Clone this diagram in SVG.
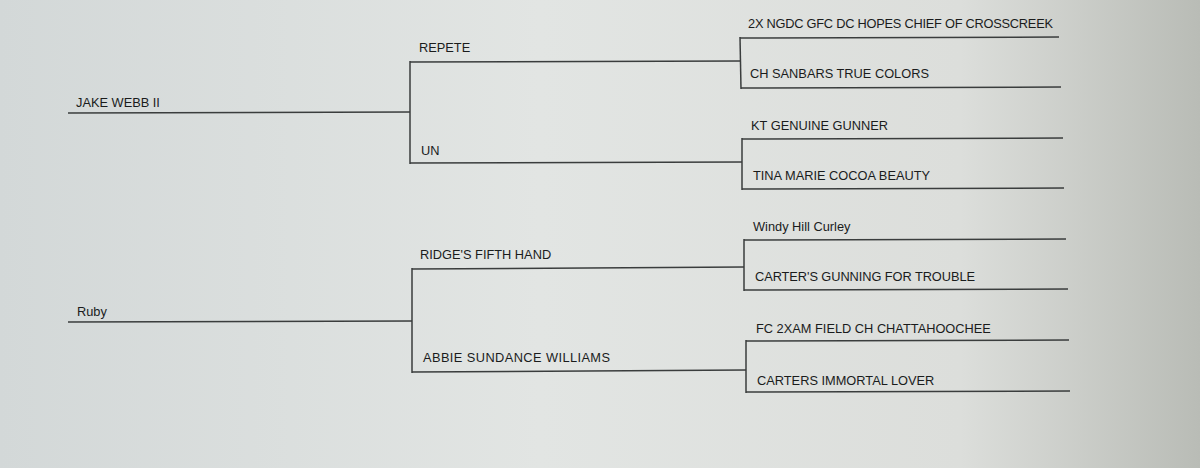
<svg xmlns="http://www.w3.org/2000/svg" width="1200" height="468" viewBox="0 0 1200 468">
<defs>
<linearGradient id="bg" x1="0" y1="0" x2="1" y2="0">
<stop offset="0" stop-color="#d3d8d8"/>
<stop offset="0.45" stop-color="#e2e5e3"/>
<stop offset="0.8" stop-color="#dcdedb"/>
<stop offset="1" stop-color="#b9bcb6"/>
</linearGradient>
</defs>
<style>
text{font-family:"Liberation Sans",Arial,sans-serif;font-size:12.8px;fill:#1a1c1c}
line{stroke:#3a3d3d;stroke-width:1.5}
</style>
<rect width="1200" height="468" fill="url(#bg)"/>
<g id="n-jake"><text x="76" y="107">JAKE WEBB II</text><line x1="68" y1="113" x2="410" y2="112"/></g>
<g id="n-ruby"><text x="77" y="316">Ruby</text><line x1="68" y1="322" x2="412" y2="321"/></g>
<g id="n-repete"><text x="419" y="52">REPETE</text><line x1="410" y1="62" x2="740" y2="61"/></g>
<g id="n-un"><text x="421" y="155">UN</text><line x1="410" y1="163" x2="742" y2="162"/></g>
<g id="n-ridge"><text x="420" y="259">RIDGE'S FIFTH HAND</text><line x1="412" y1="269" x2="744" y2="267"/></g>
<g id="n-abbie"><text x="423" y="362" textLength="187">ABBIE SUNDANCE WILLIAMS</text><line x1="412" y1="372" x2="746" y2="370"/></g>
<g id="n-hopes"><text x="748" y="28" textLength="305">2X NGDC GFC DC HOPES CHIEF OF CROSSCREEK</text><line x1="740" y1="38" x2="1059" y2="37"/></g>
<g id="n-sanbars"><text x="750" y="78">CH SANBARS TRUE COLORS</text><line x1="741" y1="88" x2="1061" y2="87"/></g>
<g id="n-kt"><text x="751" y="130">KT GENUINE GUNNER</text><line x1="742" y1="139" x2="1063" y2="138"/></g>
<g id="n-tina"><text x="753" y="180">TINA MARIE COCOA BEAUTY</text><line x1="742" y1="189" x2="1064" y2="188"/></g>
<g id="n-windy"><text x="753" y="231">Windy Hill Curley</text><line x1="744" y1="240" x2="1066" y2="239"/></g>
<g id="n-carters-gunning"><text x="755" y="281" textLength="220">CARTER'S GUNNING FOR TROUBLE</text><line x1="744" y1="290" x2="1068" y2="289"/></g>
<g id="n-fc"><text x="756" y="333">FC 2XAM FIELD CH CHATTAHOOCHEE</text><line x1="746" y1="341" x2="1069" y2="340"/></g>
<g id="n-immortal"><text x="757" y="385">CARTERS IMMORTAL LOVER</text><line x1="746" y1="392" x2="1070" y2="391"/></g>
<g id="connectors">
<line x1="410" y1="61" x2="410" y2="164"/>
<line x1="412" y1="268" x2="412" y2="373"/>
<line x1="740" y1="37" x2="741" y2="89"/>
<line x1="742" y1="138" x2="742" y2="190"/>
<line x1="744" y1="239" x2="744" y2="291"/>
<line x1="746" y1="340" x2="746" y2="393"/>
</g>
</svg>
